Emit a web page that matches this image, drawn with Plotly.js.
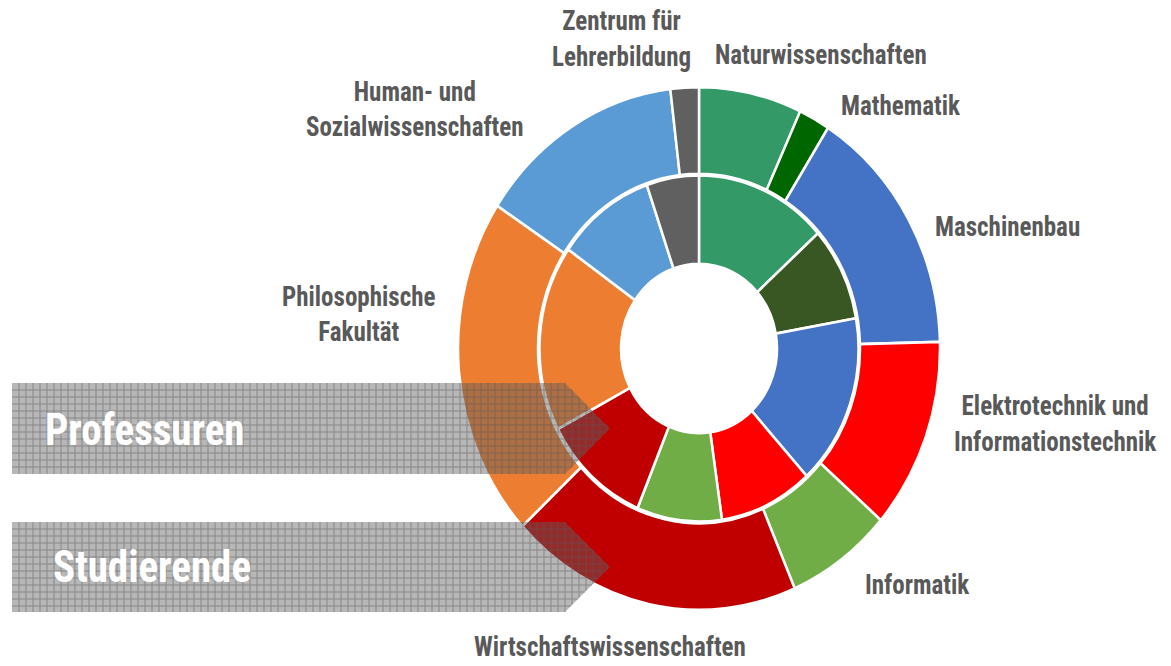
<!DOCTYPE html>
<html>
<head>
<meta charset="utf-8">
<script src="https://cdn.plot.ly/plotly-3.0.1.min.js"></script>
<style>
html, body { margin: 0; padding: 0; background: #ffffff; overflow: hidden; }
#wrap { width: 1171px; height: 666px; overflow: hidden; }
#chart { width: 1171px; height: 614px; transform: scale(1, 1.0847); transform-origin: 0 0; }
</style>
</head>
<body>
<div id="wrap"><div id="chart"></div></div>
<script>
// ---- data ----
const categories = [
  "Naturwissenschaften", "Mathematik", "Maschinenbau",
  "Elektrotechnik und Informationstechnik", "Informatik",
  "Wirtschaftswissenschaften", "Philosophische Fakultät",
  "Human- und Sozialwissenschaften", "Zentrum für Lehrerbildung"
];
// inner ring: share of professorships (%)
const professuren = [13.4, 8.8, 16.0, 9.5, 8.6, 11.0, 17.4, 10.0, 5.3];
// outer ring: share of students (%)
const studierende = [6.9, 2.1, 15.6, 11.8, 7.1, 19.6, 21.1, 13.9, 1.9];
const labelTexts = [
  "Naturwissenschaften", "Mathematik", "Maschinenbau",
  "Elektrotechnik und<br>Informationstechnik", "Informatik",
  "Wirtschaftswissenschaften", "Philosophische<br>Fakultät",
  "Human- und<br>Sozialwissenschaften", "Zentrum für<br>Lehrerbildung"
];
const ringNames = ["Professuren", "Studierende"];

// ---- styles / layout helpers ----
const innerColors = ["#339966", "#385723", "#4472c4", "#ff0000", "#70ad47", "#c00000", "#ed7d31", "#5b9bd5", "#606060"];
const outerColors = ["#339966", "#006600", "#4472c4", "#ff0000", "#70ad47", "#c00000", "#ed7d31", "#5b9bd5", "#606060"];
// label centres in picture pixels
const labelPos = [
  [821, 55], [900, 106], [1007, 227], [1055, 424], [917, 585],
  [610, 647], [359, 315], [415, 110], [621, 39]
];
const PW = 1171, PH = 666;          // picture pixels
const W = 1171, H = 614, cx = 699, cy = 321.3;
function px(X) { return X / PW; }
function py(Y) { return 1 - Y / PH; }
function dom(r) {
  return { x: [(cx - r) / W, (cx + r) / W], y: [(H - cy - r) / H, (H - cy + r) / H] };
}
const FONT = "Roboto Condensed, Liberation Sans Narrow, DejaVu Sans Condensed, Roboto, sans-serif";

const outer = {
  type: "pie", values: studierende, labels: categories, name: ringNames[1],
  sort: false, direction: "clockwise", rotation: 0, hole: 161 / 241,
  domain: dom(241), textinfo: "none", hoverinfo: "label+percent",
  marker: { colors: outerColors, line: { color: "#ffffff", width: 2.5 } },
  showlegend: false
};
const inner = {
  type: "pie", values: professuren, labels: categories, name: ringNames[0],
  sort: false, direction: "clockwise", rotation: 0, hole: 78 / 159.5,
  domain: dom(159.5), textinfo: "none", hoverinfo: "label+percent",
  marker: { colors: innerColors, line: { color: "#ffffff", width: 2.5 } },
  showlegend: false
};
const data = [outer, inner];

// ---- banner arrows (decoration) ----
function arrowShapes(top, bottom) {
  const x0 = 12, xb = 565, xt = 610, mid = (top + bottom) / 2, half = (bottom - top) / 2;
  const outline = `M${px(x0)},${py(top)} L${px(xb)},${py(top)} L${px(xt)},${py(mid)} L${px(xb)},${py(bottom)} L${px(x0)},${py(bottom)} Z`;
  let grid = "";
  const step = 7;
  for (let x = x0 + step; x < xt; x += step) {
    let y1 = top, y2 = bottom;
    if (x > xb) { const d = (x - xb) / (xt - xb) * half; y1 = top + d; y2 = bottom - d; }
    grid += `M${px(x)},${py(y1)} L${px(x)},${py(y2)} `;
  }
  for (let y = top + step; y < bottom; y += step) {
    const xe = xb + (xt - xb) * (1 - Math.abs(y - mid) / half);
    grid += `M${px(x0)},${py(y)} L${px(xe)},${py(y)} `;
  }
  return [
    { type: "path", path: outline, xref: "paper", yref: "paper", layer: "above",
      fillcolor: "rgba(95,95,95,0.45)", line: { width: 0 } },
    { type: "path", path: grid, xref: "paper", yref: "paper", layer: "above",
      line: { color: "rgba(90,90,90,0.5)", width: 1 } }
  ];
}
const shapes = [...arrowShapes(383, 474), ...arrowShapes(522, 612)];

const annotations = labelTexts.map((t, i) => ({
  text: t, x: px(labelPos[i][0]), y: py(labelPos[i][1]), xref: "paper", yref: "paper",
  showarrow: false, xanchor: "center", yanchor: "middle", align: "center",
  font: { family: FONT, size: 25, color: "#595959", weight: "bold" }
}));
annotations.push({ text: ringNames[0], x: px(145), y: py(429), xref: "paper", yref: "paper", showarrow: false,
  xanchor: "center", yanchor: "middle",
  font: { family: FONT, size: 41, color: "#ffffff", weight: "bold" } });
annotations.push({ text: ringNames[1], x: px(152), y: py(567), xref: "paper", yref: "paper", showarrow: false,
  xanchor: "center", yanchor: "middle",
  font: { family: FONT, size: 41, color: "#ffffff", weight: "bold" } });

const layout = {
  width: W, height: H, margin: { l: 0, r: 0, t: 0, b: 0 },
  paper_bgcolor: "#ffffff", plot_bgcolor: "rgba(0,0,0,0)",
  annotations: annotations, shapes: shapes, showlegend: false
};
Plotly.newPlot("chart", data, layout, { displayModeBar: false, staticPlot: true });
</script>
</body>
</html>
